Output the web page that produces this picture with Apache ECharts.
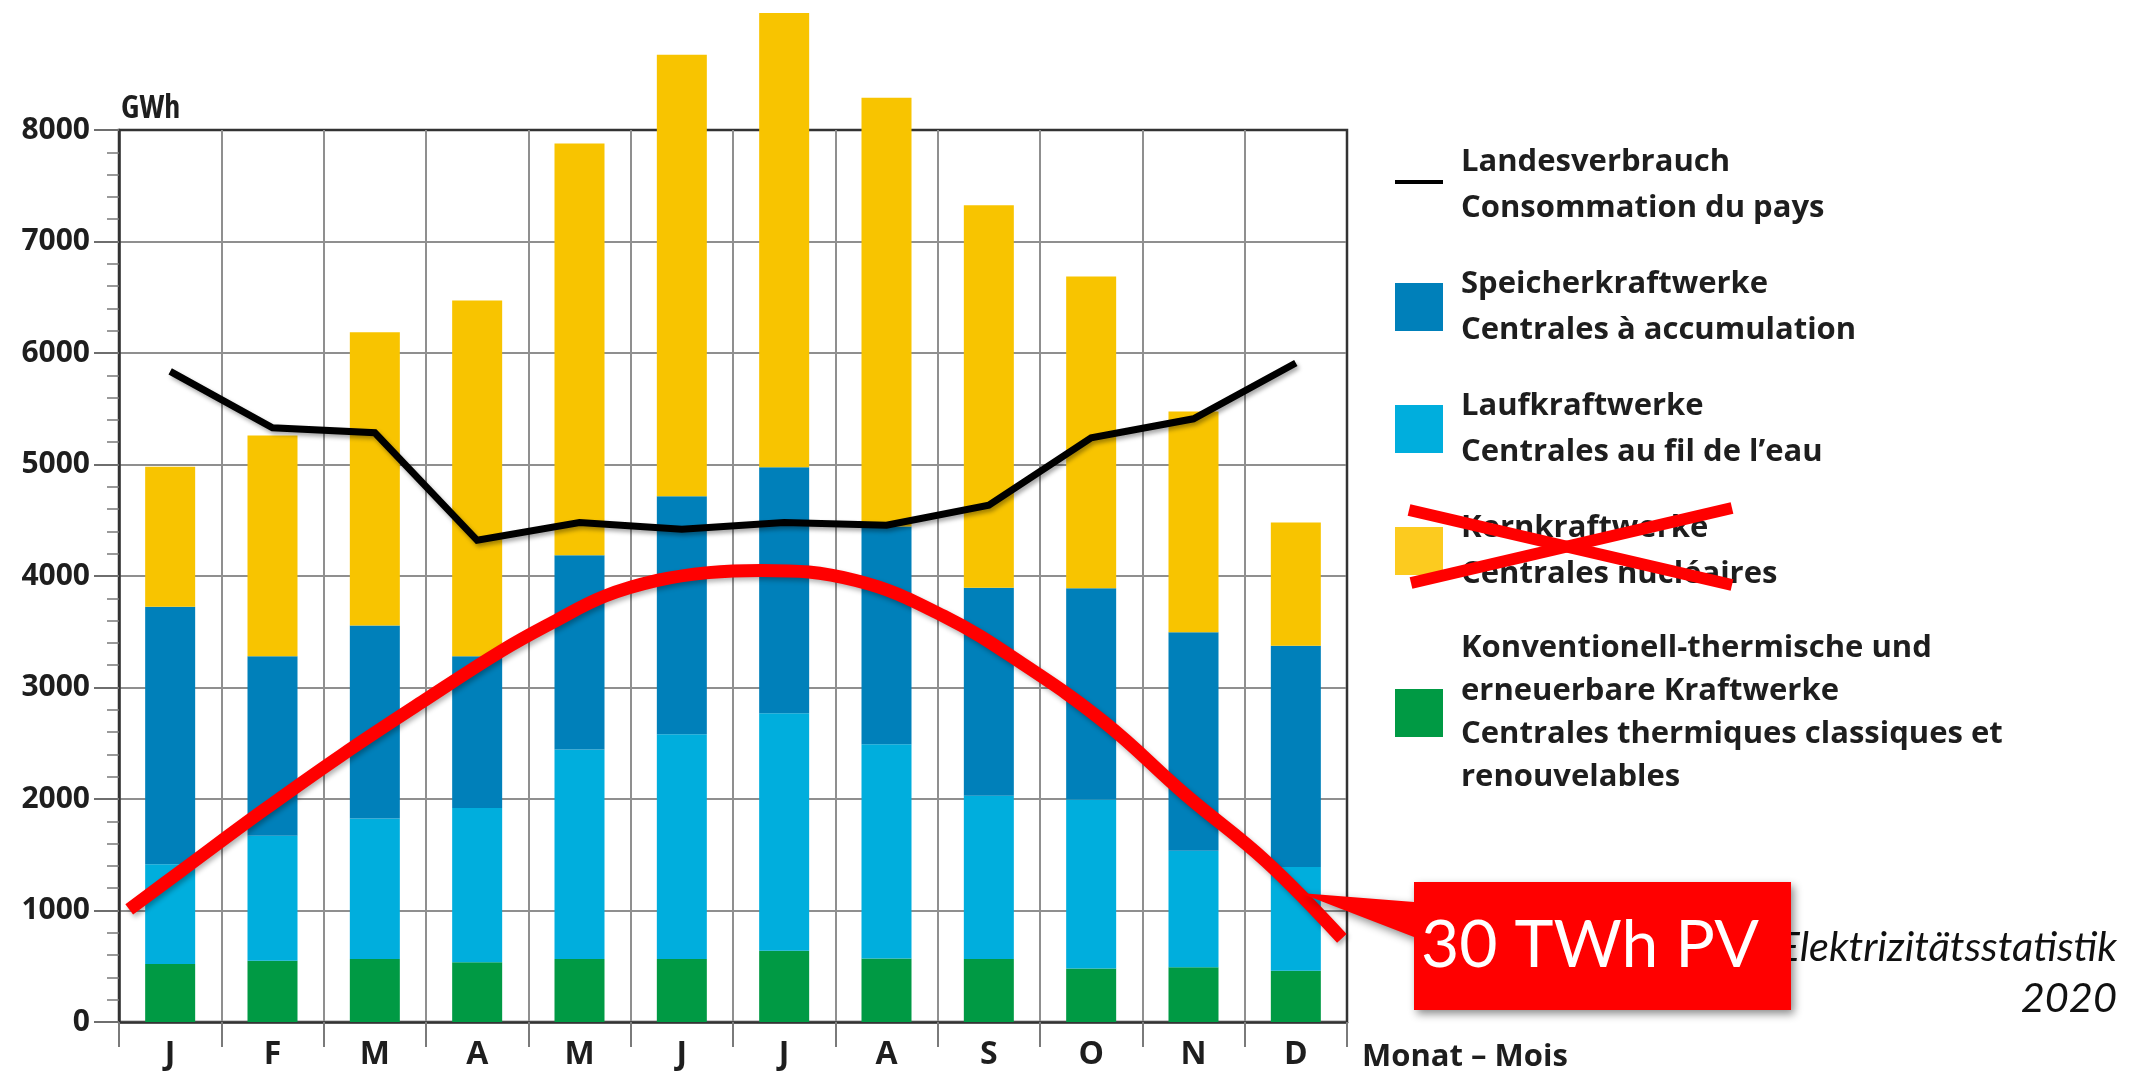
<!DOCTYPE html>
<html>
<head>
<meta charset="utf-8">
<script src="https://cdn.jsdelivr.net/npm/echarts@6/dist/echarts.min.js"></script>
<style>
  html, body { margin: 0; padding: 0; background: #ffffff; }
  #chart { width: 2147px; height: 1073px; }
</style>
</head>
<body>
<div id="chart"></div>
<script>
// Monthly electricity production and consumption, GWh
const months = ['J', 'F', 'M', 'A', 'M', 'J', 'J', 'A', 'S', 'O', 'N', 'D'];

const thermalGWh = [520, 550, 565, 535, 565, 565, 640, 570, 565, 480, 490, 460];
const runOfRiverGWh = [895, 1120, 1260, 1385, 1880, 2015, 2130, 1920, 1465, 1515, 1045, 930];
const storageGWh = [2310, 1610, 1730, 1360, 1740, 2135, 2205, 1955, 1865, 1895, 1960, 1985];
const nuclearGWh = [1255, 1980, 2630, 3190, 3695, 3960, 4075, 3845, 3430, 2795, 1980, 1105];
const consumptionGWh = [5835, 5330, 5285, 4320, 4480, 4420, 4480, 4455, 4635, 5240, 5410, 5910];

// Photovoltaic profile (position along the year in months, GWh)
const pvMonthPos = [0.10, 0.60, 1.39, 2.17, 2.96, 3.74, 4.25, 4.75, 5.26, 5.76, 6.27, 7.20, 8.06, 8.85, 9.64, 10.42, 11.21, 11.95];
const pvGWh = [1010, 1350, 1885, 2390, 2870, 3330, 3590, 3820, 3960, 4030, 4050, 3960, 3640, 3200, 2680, 2040, 1440, 750];

const yTicks = [0, 1000, 2000, 3000, 4000, 5000, 6000, 7000, 8000];

const legendLabels = {
  'Landesverbrauch': 'Landesverbrauch\nConsommation du pays',
  'Speicherkraftwerke': 'Speicherkraftwerke\nCentrales à accumulation',
  'Laufkraftwerke': 'Laufkraftwerke\nCentrales au fil de l’eau',
  'Kernkraftwerke': 'Kernkraftwerke\nCentrales nucléaires',
  'Konventionell-thermisch': '{tight|Konventionell-thermische und\nerneuerbare Kraftwerke\nCentrales thermiques classiques et\nrenouvelables}'
};

const C = {
  nuclear: '#F8C400',
  nuclearKey: '#FCCB1F',
  storage: '#0080BA',
  river: '#00AEDD',
  thermal: '#009A44',
  grid: '#8f8f8f',
  frame: '#333333',
  text: '#1e1e1e',
  red: '#FF0000'
};

const labelFont = 'Open Sans';

// legend keys: squares and a short bar, padded to a common 61x48 box
const squareIcon = 'path://M0,0H48V48H0Z M60.99,47.99L61,48L60.99,48Z';
const lineIcon = 'path://M0,0L0.01,0L0,0.01Z M0,19H48V23H0Z M60.99,47.99L61,48L60.99,48Z';

const pvData = pvMonthPos.map((x, i) => [x, pvGWh[i]]);

const ySplitColors = yTicks.map((t, i) => i === yTicks.length - 1 ? C.frame : C.grid);
const xSplitColors = [C.frame].concat(months.map((m, i) => i === months.length - 1 ? C.frame : C.grid));

const chart = echarts.init(document.getElementById('chart'), null, { renderer: 'canvas' });

const option = {
  animation: false,
  backgroundColor: '#ffffff',
  grid: {
    left: 119, top: 130, right: 800, bottom: 50,
    show: true, borderColor: C.frame, borderWidth: 2.5, backgroundColor: 'transparent'
  },
  xAxis: [
    {
      type: 'category',
      data: months,
      boundaryGap: true,
      axisLine: { lineStyle: { color: C.frame, width: 2.5 } },
      axisTick: { show: true, interval: 0, length: 25, lineStyle: { color: '#7a7a7a', width: 2 } },
      axisLabel: {
        interval: 0, margin: 17, fontFamily: labelFont, fontWeight: 'bold',
        fontSize: 32, lineHeight: 32, color: C.text
      },
      splitLine: { show: true, interval: 0, lineStyle: { color: xSplitColors, width: 2 } },
      name: 'Monat – Mois',
      nameLocation: 'end',
      nameGap: 15,
      nameTextStyle: {
        align: 'left', verticalAlign: 'top', padding: [19, 0, 0, 0],
        fontFamily: labelFont, fontWeight: 'bold', fontSize: 31, lineHeight: 32, color: C.text
      }
    },
    { type: 'value', min: 0, max: 12, show: false }
  ],
  yAxis: {
    type: 'value',
    min: 0, max: 8000, interval: 1000,
    axisLine: { show: true, lineStyle: { color: C.frame, width: 2.5 } },
    axisTick: { show: true, length: 25, lineStyle: { color: '#6e6e6e', width: 2 } },
    minorTick: { show: true, splitNumber: 5, length: 12, lineStyle: { color: '#7a7a7a', width: 1.5 } },
    axisLabel: {
      margin: 29, fontFamily: labelFont, fontWeight: 'bold', fontSize: 30, color: C.text,
      formatter: v => String(v)
    },
    splitLine: { show: true, lineStyle: { color: ySplitColors, width: 2 } },
    name: 'GWh',
    nameLocation: 'end',
    nameGap: 5,
    nameTextStyle: {
      align: 'left', verticalAlign: 'bottom', padding: [0, 0, 0, 2],
      fontFamily: labelFont, fontWeight: 'bold semi-condensed', fontSize: 32, lineHeight: 32, color: C.text
    }
  },
  legend: {
    orient: 'vertical',
    left: 1395, top: 139,
    padding: 0,
    itemWidth: 61, itemHeight: 48, itemGap: 30,
    selectedMode: false,
    itemStyle: { borderWidth: 0 },
    textStyle: {
      fontFamily: labelFont, fontWeight: 'bold', fontSize: 31, lineHeight: 46, color: C.text,
      rich: {
        tight: { fontFamily: labelFont, fontWeight: 'bold', fontSize: 31, lineHeight: 43, color: C.text }
      }
    },
    formatter: name => legendLabels[name] || name,
    data: [
      { name: 'Landesverbrauch', icon: lineIcon },
      { name: 'Speicherkraftwerke', icon: squareIcon },
      { name: 'Laufkraftwerke', icon: squareIcon },
      { name: 'Kernkraftwerke', icon: squareIcon, itemStyle: { color: C.nuclearKey } },
      { name: 'Konventionell-thermisch', icon: squareIcon }
    ]
  },
  series: [
    {
      name: 'Konventionell-thermisch', type: 'bar', stack: 'prod', barWidth: 50, clip: false,
      itemStyle: { color: C.thermal }, data: thermalGWh, z: 2
    },
    {
      name: 'Laufkraftwerke', type: 'bar', stack: 'prod', barWidth: 50, clip: false,
      itemStyle: { color: C.river }, data: runOfRiverGWh, z: 2
    },
    {
      name: 'Speicherkraftwerke', type: 'bar', stack: 'prod', barWidth: 50, clip: false,
      itemStyle: { color: C.storage }, data: storageGWh, z: 2
    },
    {
      name: 'Kernkraftwerke', type: 'bar', stack: 'prod', barWidth: 50, clip: false,
      itemStyle: { color: C.nuclear }, data: nuclearGWh, z: 2
    },
    {
      name: 'Landesverbrauch', type: 'line', data: consumptionGWh, symbol: 'none', z: 5,
      itemStyle: { color: '#000000' },
      lineStyle: {
        color: '#000000', width: 7, join: 'miter',
        shadowColor: 'rgba(0,0,0,0.35)', shadowBlur: 4, shadowOffsetX: 2, shadowOffsetY: 3
      }
    },
    {
      name: 'PV', type: 'line', xAxisIndex: 1, data: pvData, symbol: 'none', smooth: 0.4, z: 6,
      clip: false,
      itemStyle: { color: C.red },
      lineStyle: {
        color: C.red, width: 13, cap: 'butt',
        shadowColor: 'rgba(0,0,0,0.3)', shadowBlur: 5, shadowOffsetX: 2, shadowOffsetY: 3
      }
    }
  ],
  graphic: {
    elements: [
      // source note
      {
        type: 'text', x: 2117, y: 948, z: 50,
        style: { text: 'Elektrizitätsstatistik', font: 'italic 41.5px Lato', fill: '#111111', align: 'right', verticalAlign: 'middle' }
      },
      {
        type: 'text', x: 2117, y: 999, z: 50,
        style: { text: '2020', font: 'italic 41.5px Lato', fill: '#111111', align: 'right', verticalAlign: 'middle' }
      },
      // callout pointing at the PV curve
      {
        type: 'polygon', z: 100,
        shape: { points: [[1414, 882], [1791, 882], [1791, 1010], [1414, 1010], [1414, 937], [1300, 893], [1414, 902]] },
        style: { fill: C.red, shadowBlur: 8, shadowOffsetX: 3, shadowOffsetY: 4, shadowColor: 'rgba(0,0,0,0.45)' }
      },
      {
        type: 'text', x: 1590, y: 946, z: 101,
        style: { text: '30 TWh PV', font: '66px Lato', fill: '#ffffff', align: 'center', verticalAlign: 'middle' }
      },
      // nuclear entry struck out
      {
        type: 'line', z: 100,
        shape: { x1: 1409, y1: 510, x2: 1732, y2: 585 },
        style: { stroke: C.red, lineWidth: 12 }
      },
      {
        type: 'line', z: 100,
        shape: { x1: 1411, y1: 583, x2: 1732, y2: 508 },
        style: { stroke: C.red, lineWidth: 12 }
      }
    ]
  }
};

chart.setOption(option);
</script>
</body>
</html>
